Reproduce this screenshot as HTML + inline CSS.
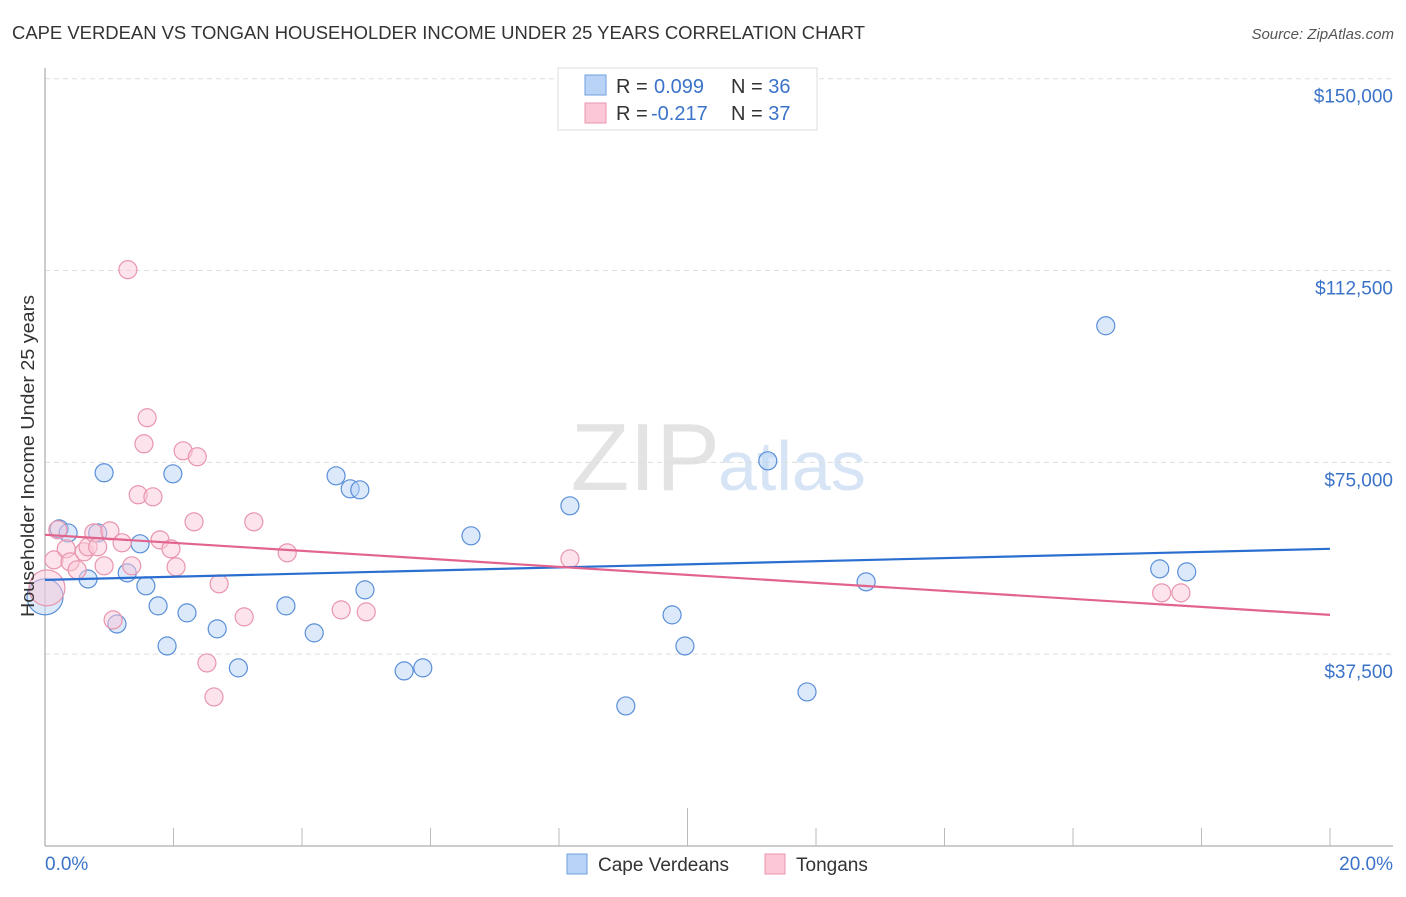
<!DOCTYPE html>
<html><head><meta charset="utf-8"><style>
body{margin:0;background:#fff;font-family:"Liberation Sans",sans-serif;}
svg text{font-family:"Liberation Sans",sans-serif;}
</style></head><body>
<svg id="chart" width="1406" height="892">
<text x="12" y="39" font-size="18" fill="#333" textLength="853" lengthAdjust="spacingAndGlyphs">CAPE VERDEAN VS TONGAN HOUSEHOLDER INCOME UNDER 25 YEARS CORRELATION CHART</text>
<text x="1394" y="39" font-size="15" fill="#555" font-style="italic" text-anchor="end">Source: ZipAtlas.com</text>
<text x="720" y="490" font-size="96" fill="#e3e3e3" font-family="Liberation Serif" text-anchor="end">ZIP</text>
<text x="718" y="490" font-size="70" fill="#d6e4f5">atlas</text>
<g id="grid"></g>
<g id="axes"></g>
<g id="marks"></g>
<text transform="translate(34,456) rotate(-90)" font-size="18" fill="#333" text-anchor="middle" textLength="322" lengthAdjust="spacingAndGlyphs">Householder Income Under 25 years</text>
<text x="45" y="870" font-size="19" fill="#3b73c9">0.0%</text>
<text x="1393" y="870" font-size="19" fill="#3b73c9" text-anchor="end">20.0%</text>
<g>
<rect x="567" y="854" width="20" height="20" fill="#b8d3f5" stroke="#6f9fdf"/>
<text x="598" y="871" font-size="19" fill="#333">Cape Verdeans</text>
<rect x="765" y="854" width="20" height="20" fill="#fcc8d7" stroke="#e896ae"/>
<text x="796" y="871" font-size="19" fill="#333">Tongans</text>
</g>
<g>
<rect x="558" y="68" width="259" height="62" fill="#fff" stroke="#ddd"/>
<rect x="585" y="75" width="21" height="20" fill="#b8d3f5" stroke="#6f9fdf"/>
<rect x="585" y="103" width="21" height="20" fill="#fcc8d7" stroke="#e896ae"/>
<text x="616" y="93" font-size="20" fill="#333">R = <tspan x="654" fill="#3b73c9">0.099</tspan><tspan x="731">N = </tspan><tspan fill="#3b73c9">36</tspan></text>
<text x="616" y="120" font-size="20" fill="#333">R = <tspan x="651" fill="#3b73c9">-0.217</tspan><tspan x="731">N = </tspan><tspan fill="#3b73c9">37</tspan></text>
</g>
</svg>
<script>
const yTicks=[37500,75000,112500,150000];
const yTickLabels=["$37,500","$75,000","$112,500","$150,000"];
const blueX=[0.22,0.36,0.82,0.92,0.67,1.12,1.28,1.48,1.57,1.76,1.90,1.99,2.21,2.68,3.01,3.75,4.19,4.53,4.75,4.90,4.98,5.59,5.88,6.63,8.17,9.04,9.76,9.96,11.25,11.86,12.78,16.51,17.35,17.77,0.0];
const blueY=[62000,61200,61200,72960,52200,43400,53400,59070,50860,46940,39100,72760,45570,42450,34820,46940,41660,72370,69830,69630,50070,34230,34820,60640,66500,27380,45180,39100,75300,30120,51640,101700,54180,53590,48700];
const pinkX=[0.20,0.14,0.03,0.33,0.39,0.50,0.61,0.67,0.76,0.82,0.92,1.01,1.06,1.20,1.29,1.35,1.45,1.54,1.59,1.68,1.79,1.96,2.04,2.15,2.32,2.37,2.52,2.63,2.71,3.10,3.25,3.77,4.61,5.00,8.17,17.38,17.68];
const pinkY=[61810,55940,50460,58090,55550,53990,57510,58480,61220,58480,54770,61610,44200,59270,112670,54770,68660,78630,83720,68260,59850,58090,54570,77260,63370,76090,35790,29140,51250,44790,63370,57310,46160,45770,56140,49490,49490];
const blueTrend=[52030,58100];
const pinkTrend=[60830,45180];
const NS="http://www.w3.org/2000/svg";
const X=v=>45+v/20*1285;
const Y=v=>846-v/150000*767.3;
function mk(tag,attrs,parent){const e=document.createElementNS(NS,tag);for(const k in attrs)e.setAttribute(k,attrs[k]);document.getElementById(parent).appendChild(e);return e;}
yTicks.forEach((t,i)=>{
  const l=mk('line',{x1:45,x2:1393,y1:Y(t),y2:Y(t),stroke:'#ddd','stroke-dasharray':'5,4'},'grid');
  
  
  const tx=mk('text',{x:1393,y:Y(t)+24,'font-size':19,fill:'#3b73c9','text-anchor':'end'},'grid');
  tx.textContent=yTickLabels[i];
  
  
});
const ax=mk('line',{x1:45,x2:1393,y1:846,y2:846,stroke:'#bbb','stroke-width':1.5},'axes');


const ay=mk('line',{x1:45,x2:45,y1:68,y2:846,stroke:'#bbb','stroke-width':1.5},'axes');


for(let i=0;i<=10;i++){
  const tk=mk('line',{x1:X(i*2),x2:X(i*2),y1:i==5?808:828,y2:846,stroke:'#bbb'},'axes');
  
  
}
function pts(xs,ys,fill,stroke,name){
  xs.forEach((x,i)=>{
    const big=(x<0.05);
    const c=mk('circle',{cx:X(x),cy:Y(ys[i]),r:big?18:9,fill:fill,'fill-opacity':0.5,stroke:stroke,'stroke-width':1.2},'marks');
    
    
  });
}
pts(blueX,blueY,'#b8d3f5','#5b8fd8','point-cape-verdean');
pts(pinkX,pinkY,'#fcc8d7','#e896ae','point-tongan');
const bl=mk('line',{x1:X(0),x2:X(20),y1:Y(blueTrend[0]),y2:Y(blueTrend[1]),stroke:'#2a6fd0','stroke-width':2.2},'marks');


const pl=mk('line',{x1:X(0),x2:X(20),y1:Y(pinkTrend[0]),y2:Y(pinkTrend[1]),stroke:'#e2648e','stroke-width':2.2},'marks');


</script>
</body></html>
